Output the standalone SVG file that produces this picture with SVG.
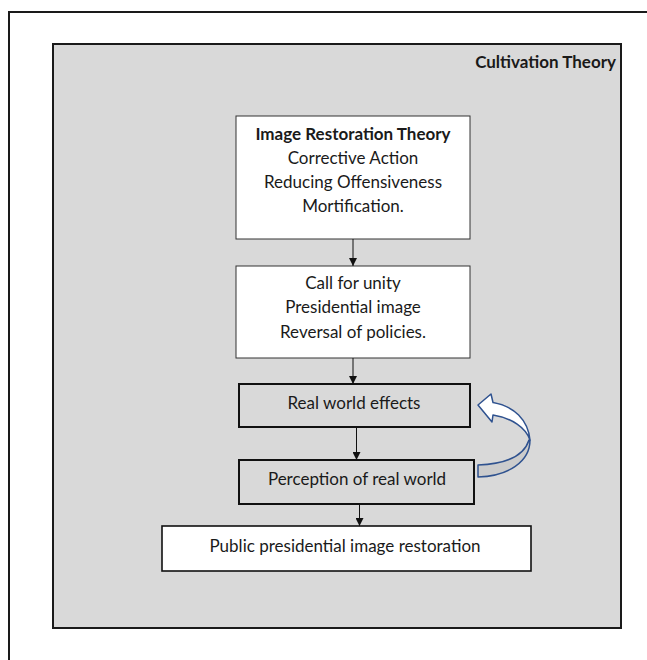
<svg xmlns="http://www.w3.org/2000/svg" width="647" height="660" viewBox="0 0 647 660">
<defs>
<style>
.frame{fill:none;stroke:#1a1a1a;stroke-width:2}
.bg{fill:#d9d9d9;stroke:#1a1a1a;stroke-width:2}
.box{fill:#ffffff;stroke:#333;stroke-width:1}
.boxg{fill:#d9d9d9;stroke:#111;stroke-width:2}
.boxw{fill:#ffffff;stroke:#111;stroke-width:1.6}
text{font-family:Lato,"Liberation Sans",sans-serif;font-size:17px;fill:#1a1a1a;text-anchor:middle}
.b{font-weight:bold}
.conn{stroke:#111;stroke-width:1;fill:none;marker-end:url(#ah)}
</style>
<marker id="ah" viewBox="0 0 10 10" refX="10" refY="5" markerWidth="8" markerHeight="8" markerUnits="userSpaceOnUse" orient="auto">
<path d="M0,0 L10,5 L0,10 Z" fill="#111"/>
</marker>
</defs>
<rect x="0" y="0" width="647" height="660" fill="#ffffff"/>
<rect class="frame" x="9" y="12" width="660" height="680"/>
<g id="cultivation">
<rect class="bg" x="53" y="44" width="568" height="584"/>
<text class="b" x="616" y="68" style="text-anchor:end">Cultivation Theory</text>
</g>
<g id="n1">
<rect class="box" x="236" y="116" width="234" height="123"/>
<text class="b" x="353" y="140">Image Restoration Theory</text>
<text x="353" y="164">Corrective Action</text>
<text x="353" y="188">Reducing Offensiveness</text>
<text x="353" y="212">Mortification.</text>
</g>
<g id="n2">
<rect class="box" x="236" y="266" width="234" height="92"/>
<text x="353" y="289">Call for unity</text>
<text x="353" y="313">Presidential image</text>
<text x="353" y="338">Reversal of policies.</text>
</g>
<g id="n3">
<rect class="boxg" x="239" y="384" width="231" height="43"/>
<text x="354" y="409">Real world effects</text>
</g>
<g id="n4">
<rect class="boxg" x="239" y="460" width="235" height="44"/>
<text x="357" y="485">Perception of real world</text>
</g>
<g id="n5">
<rect class="boxw" x="162" y="526" width="369" height="45"/>
<text x="345" y="552">Public presidential image restoration</text>
</g>
<g id="connectors">
<line class="conn" x1="353" y1="239" x2="353" y2="266"/>
<line class="conn" x1="353" y1="358" x2="353" y2="384"/>
<line class="conn" x1="356.5" y1="427" x2="356.5" y2="460"/>
<line class="conn" x1="359.5" y1="504" x2="359.5" y2="526"/>
<g id="feedback">
<path d="M529,440 C524,456 505,464 478,465 L478,477 C508,476 530,462 530,440 Z" fill="#cccccc" stroke="#2f528f" stroke-width="1.5" stroke-linejoin="round"/>
<path d="M478,405 L491,394 L493,402.5 C514,406 528,420 530,440 C526,428 512,418 493,415 L492,422 Z" fill="#ffffff" stroke="#2f528f" stroke-width="1.5" stroke-linejoin="round"/>
</g>
</g>
</svg>
